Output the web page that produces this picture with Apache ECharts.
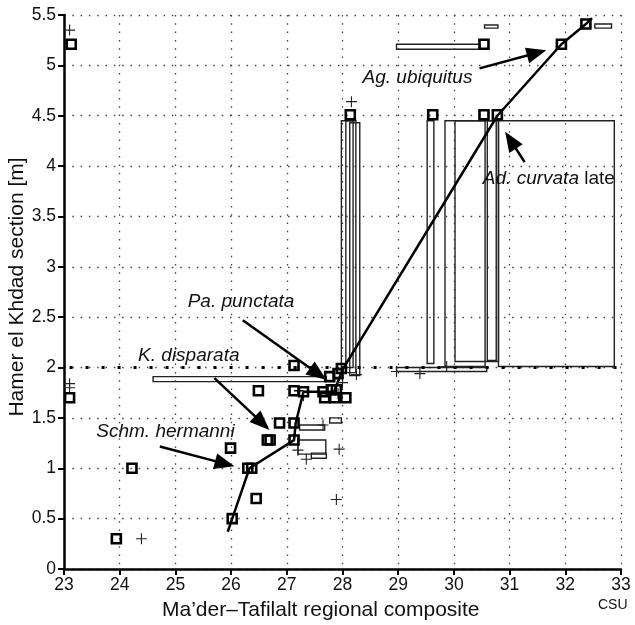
<!DOCTYPE html>
<html>
<head>
  <meta charset="utf-8">
  <title>Hamer el Khdad vs Ma'der-Tafilalt composite</title>
  <script src="https://cdn.jsdelivr.net/npm/echarts@6/dist/echarts.min.js"></script>
  <style>
    html, body { margin: 0; padding: 0; background: #fff; }
    #chart { width: 635px; height: 625px; }
  </style>
</head>
<body>
  <div id="chart"></div>
  <script>
    // open squares: [composite, section height]
    const squares = [
      [23.13, 5.21], [23.1, 1.70], [23.94, 0.30], [24.22, 1.0],
      [26.02, 0.5], [25.99, 1.2], [26.3, 1.0], [26.37, 1.0], [26.45, 0.7],
      [26.49, 1.77], [26.65, 1.28], [26.7, 1.28], [26.87, 1.45],
      [27.13, 2.02], [27.13, 1.77], [27.3, 1.76], [27.13, 1.45], [27.13, 1.28],
      [27.77, 1.91], [27.92, 1.94], [27.98, 1.99], [27.65, 1.76], [27.8, 1.78],
      [27.89, 1.78], [27.68, 1.70], [27.86, 1.70], [28.06, 1.70],
      [28.14, 4.51], [29.62, 4.51], [30.54, 4.51], [30.78, 4.51],
      [30.54, 5.21], [31.93, 5.21], [32.37, 5.41]
    ];
    // plus markers
    const crosses = [
      [23.1, 5.35], [23.1, 1.80], [23.1, 1.84], [24.39, 0.30],
      [28.16, 4.64], [28.25, 1.93], [28.97, 1.96], [29.39, 1.94], [29.87, 2.01],
      [27.94, 1.19], [27.89, 0.69], [27.35, 1.09], [27.2, 1.18], [27.65, 1.43],
      [27.92, 1.74], [28.0, 1.85], [27.3, 1.72]
    ];
    // line of correlation
    const composite = [
      [25.94, 0.37], [26.02, 0.5], [26.33, 1.0], [27.13, 1.28], [27.16, 1.45],
      [27.3, 1.76], [27.85, 1.76], [28.0, 1.98], [30.78, 4.5], [31.93, 5.21],
      [32.37, 5.41], [32.48, 5.47]
    ];
    const shortBar = [[27.13, 1.77], [27.3, 1.77]];
    const levelLine = [[23.1, 2], [33, 2]];
    // ranges: [xFrom, xTo, yFrom, yTo]
    const ranges = [
      [27.98, 28.19, 2.0, 4.45], [28.06, 28.24, 1.95, 4.45], [28.13, 28.31, 1.92, 4.43],
      [29.52, 29.64, 2.04, 4.45], [29.84, 30.56, 2.01, 4.45], [30.02, 30.8, 2.06, 4.45],
      [30.6, 30.76, 2.07, 4.45], [30.8, 32.88, 2.01, 4.45],
      [28.97, 30.59, 1.96, 2.0], [24.6, 27.71, 1.86, 1.91],
      [28.97, 30.47, 5.16, 5.21], [30.55, 30.79, 5.37, 5.40], [32.53, 32.83, 5.37, 5.41],
      [27.23, 27.68, 1.38, 1.43], [27.2, 27.7, 1.14, 1.28], [27.77, 27.98, 1.45, 1.5],
      [27.44, 27.71, 1.10, 1.15]
    ];
    // arrows: [x0, y0, x1 (tip), y1 (tip)]
    const arrows = [
      [30.46, 4.97, 31.66, 5.15],
      [31.27, 4.04, 30.92, 4.34],
      [26.21, 2.47, 27.71, 1.88],
      [25.7, 1.895, 26.69, 1.38],
      [24.72, 1.216, 26.06, 1.02]
    ];
    const labelText = ['{i|Ag. ubiquitus}', '{i|Ad. curvata} late', '{i|Pa. punctata}', '{i|K. disparata}', '{i|Schm. hermanni}'];
    const labelX = [28.36, 30.52, 25.22, 24.33, 23.58];
    const labelY = [4.874, 3.872, 2.655, 2.117, 1.365];

    const font = 'Liberation Sans, Arial, sans-serif';
    const chart = echarts.init(document.getElementById('chart'));

    const gridDots = { color: '#444', width: 1.3, type: [1.5, 6.8] };

    chart.setOption({
      animation: false,
      backgroundColor: '#fff',
      grid: { left: 64, right: 14, top: 15, bottom: 56, outerBoundsMode: 'none' },
      xAxis: {
        type: 'value', min: 23, max: 33, interval: 1,
        axisLine: { lineStyle: { color: '#000', width: 2.5 } },
        axisTick: { length: 6, lineStyle: { color: '#000', width: 2 } },
        axisLabel: { color: '#111', fontSize: 17.5, fontFamily: font, margin: 7 },
        splitLine: { show: true, lineStyle: gridDots }
      },
      yAxis: {
        type: 'value', min: 0, max: 5.5, interval: 0.5,
        axisLine: { show: true, lineStyle: { color: '#000', width: 2.5 } },
        axisTick: { show: true, length: 6, lineStyle: { color: '#000', width: 2 } },
        axisLabel: { color: '#111', fontSize: 17.5, fontFamily: font, margin: 8 },
        splitLine: { show: true, lineStyle: gridDots }
      },
      series: [
        {
          type: 'custom', name: 'ranges', data: ranges,
          encode: { x: [0, 1], y: [2, 3] },
          renderItem: function (params, api) {
            const a = api.coord([api.value(0), api.value(3)]);
            const b = api.coord([api.value(1), api.value(2)]);
            return {
              type: 'rect',
              shape: { x: a[0], y: a[1], width: b[0] - a[0], height: b[1] - a[1] },
              style: { fill: 'none', stroke: '#222', lineWidth: 1.4 }
            };
          },
          z: 2
        },
        {
          type: 'line', data: levelLine, symbol: 'none',
          lineStyle: { color: '#000', width: 3, type: [3, 13] }, z: 3
        },
        {
          type: 'line', data: composite, symbol: 'none',
          lineStyle: { color: '#000', width: 2.5 }, z: 4
        },
        {
          type: 'line', data: shortBar, symbol: 'none',
          lineStyle: { color: '#000', width: 1.5 }, z: 4
        },
        {
          type: 'scatter', data: crosses, symbolSize: 11,
          symbol: 'path://M4.5,0H5.5V4.5H10V5.5H5.5V10H4.5V5.5H0V4.5H4.5Z',
          itemStyle: { color: '#222', opacity: 1 }, z: 5
        },
        {
          type: 'scatter', data: squares, symbol: 'rect', symbolSize: 9,
          itemStyle: { color: 'rgba(0,0,0,0)', borderColor: '#000', borderWidth: 2.6, opacity: 1 },
          z: 6
        },
        {
          type: 'custom', name: 'arrows', data: arrows,
          encode: { x: [0, 2], y: [1, 3] },
          renderItem: function (params, api) {
            const p0 = api.coord([api.value(0), api.value(1)]);
            const p1 = api.coord([api.value(2), api.value(3)]);
            const dx = p1[0] - p0[0], dy = p1[1] - p0[1];
            const len = Math.sqrt(dx * dx + dy * dy);
            const ux = dx / len, uy = dy / len;
            const L = 20, W = 8;
            const bx = p1[0] - ux * L, by = p1[1] - uy * L;
            return {
              type: 'group',
              children: [
                { type: 'line', shape: { x1: p0[0], y1: p0[1], x2: bx + ux * 2, y2: by + uy * 2 },
                  style: { stroke: '#000', lineWidth: 2.5 } },
                { type: 'polygon', shape: { points: [p1, [bx - uy * W, by + ux * W], [bx + uy * W, by - ux * W]] },
                  style: { fill: '#000' } }
              ]
            };
          },
          z: 7
        }
      ]
    });

    const graphics = labelText.map(function (t, i) {
      const p = chart.convertToPixel({ gridIndex: 0 }, [labelX[i], labelY[i]]);
      return {
        type: 'text', x: p[0], y: p[1], z: 100,
        style: {
          text: t, fill: '#111', font: '19px ' + font,
          align: 'left', verticalAlign: 'middle',
          rich: { i: { fontStyle: 'italic', fontSize: 19, fontFamily: font, fill: '#111' } }
        }
      };
    });
    graphics.push({
      type: 'text', x: 162, y: 610, z: 100,
      style: { text: 'Ma\u2019der\u2013Tafilalt regional composite', fill: '#111',
        font: '21px ' + font, align: 'left', verticalAlign: 'middle' }
    });
    graphics.push({
      type: 'text', x: 598, y: 605, z: 100,
      style: { text: 'CSU', fill: '#111', font: '14px ' + font, align: 'left', verticalAlign: 'middle' }
    });
    graphics.push({
      type: 'text', x: 17, y: 287, rotation: Math.PI / 2, z: 100,
      style: { text: 'Hamer el Khdad section [m]', fill: '#111',
        font: '21px ' + font, align: 'center', verticalAlign: 'middle' }
    });
    chart.setOption({ graphic: graphics });
  </script>
</body>
</html>
